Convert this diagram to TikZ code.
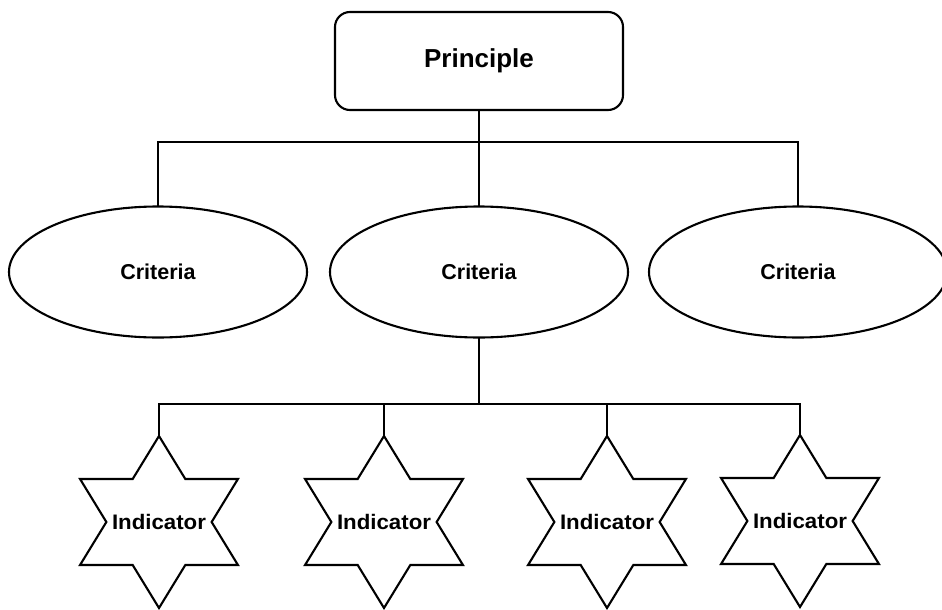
\documentclass[tikz,border=0pt]{standalone}
\usepackage{fontspec}
\setmainfont{Liberation Sans}
\usetikzlibrary{shapes.geometric}
\tikzset{
  line/.style={line width=2.1pt, draw=black},
  princbox/.style={line, rectangle, rounded corners=15pt, minimum width=288pt, minimum height=98pt, inner sep=0pt, font=\fontsize{26}{30}\selectfont\bfseries},
  critnode/.style={line, ellipse, minimum width=298pt, minimum height=131pt, inner sep=0pt, font=\fontsize{21.5}{26}\selectfont\bfseries},
  indnode/.style={line, star, star points=6, star point ratio=1.732, minimum size=172pt, inner sep=0pt, xscale=1.06, transform shape, font=\fontsize{21}{26}\selectfont\bfseries},
  conn/.style={draw=black, line width=2.1pt, line cap=rect}
}
\newcommand{\zw}[1]{\makebox[0pt]{#1}}
\begin{document}
\begin{tikzpicture}[x=1pt, y=-1pt]
  \fill[white] (0,0) rectangle (942,610);
  \useasboundingbox (0,0) rectangle (942,610);
  \node[princbox] (p) at (479,61) {Principle};
  \node[critnode] (c1) at (158,272) {Criteria};
  \node[critnode] (c2) at (479,272) {Criteria};
  \node[critnode] (c3) at (798,272) {Criteria};
  \node[indnode] (s1) at (159,522) {\zw{Indicator}};
  \node[indnode] (s2) at (384,522) {\zw{Indicator}};
  \node[indnode] (s3) at (607,522) {\zw{Indicator}};
  \node[indnode] (s4) at (800,521) {\zw{Indicator}};
  \coordinate (j1) at (479,142);
  \coordinate (j2) at (479,404);
  \draw[conn] (p.south) -- (c2.north);
  \draw[conn] (c1.north) |- (j1) -| (c3.north);
  \draw[conn] (c2.south) -- (j2);
  \draw[conn] (s1.north) |- (j2) -| (s4.north);
  \draw[conn] (s2.north) -- (s2.north |- j2);
  \draw[conn] (s3.north) -- (s3.north |- j2);
\end{tikzpicture}
\end{document}
